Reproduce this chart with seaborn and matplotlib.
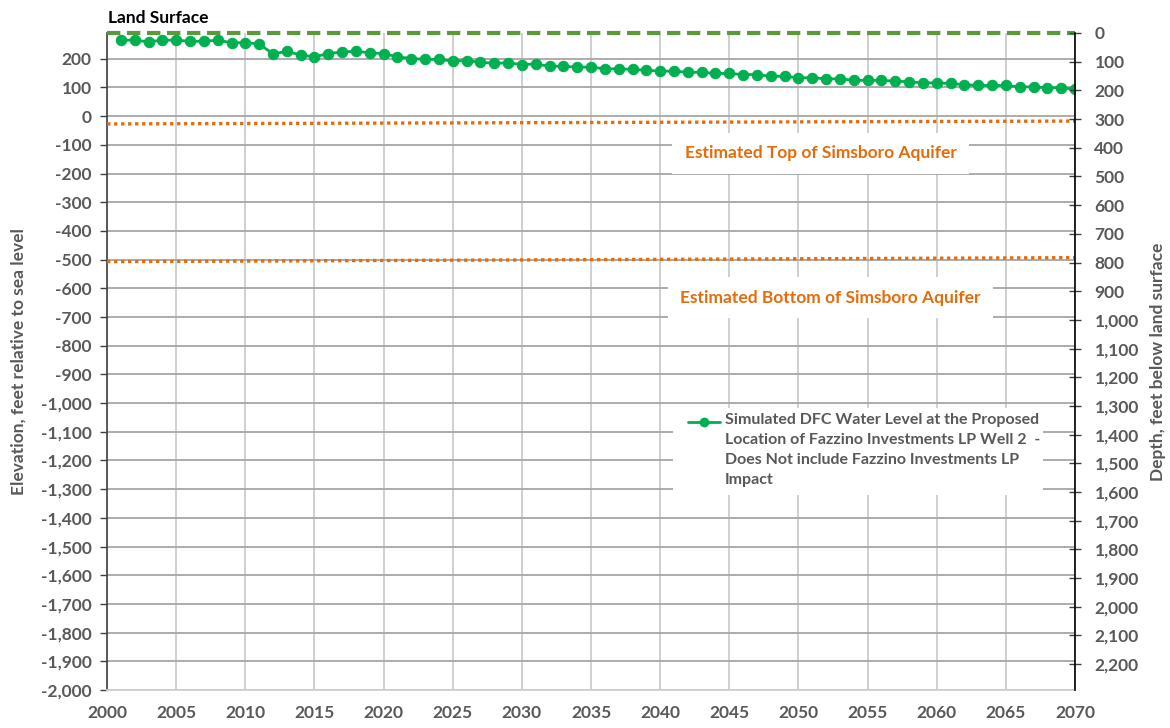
import matplotlib
matplotlib.use("Agg")
import matplotlib.pyplot as plt
import seaborn as sns
import pandas as pd
from matplotlib.lines import Line2D
from matplotlib.patches import Rectangle

# ---------------------------------------------
# Data
# ---------------------------------------------
years = list(range(2001, 2071))
water_level = [265, 265, 259, 265, 265, 261, 261, 265, 256, 256,
               252, 217, 226, 213, 207, 218, 224, 226, 221, 218,
               207, 201, 198, 198, 192, 194, 188, 184, 186, 180,
               182, 174, 174, 171, 171, 165, 165, 163, 160, 157,
               157, 153, 153, 149, 149, 145, 145, 139, 139, 134,
               134, 130, 130, 125, 125, 125, 122, 120, 116, 116,
               114, 110, 107, 107, 107, 102, 102, 99, 99, 94]

land_surface = 290
line_years = [2000, 2070]
top_simsboro = [-27, -17]
bottom_simsboro = [-507, -493]

elev_ticks = list(range(-2000, 201, 100))
depth_ticks = list(range(0, 2201, 100))
year_ticks = list(range(2000, 2071, 5))

legend_label = ("Simulated DFC Water Level at the Proposed\n"
                "Location of Fazzino Investments LP Well 2  -\n"
                "Does Not include Fazzino Investments LP\n"
                "Impact")

df = pd.DataFrame({"Year": years, "Level": water_level})

# ---------------------------------------------
# Style
# ---------------------------------------------
sns.set_style("white")
plt.rcParams["font.family"] = ["Lato", "DejaVu Sans"]
plt.rcParams["font.weight"] = "bold"

gray = "#595959"
green = "#00b050"
olive = "#5b9a3b"
orange = "#e46c0a"

fig = plt.figure(figsize=(11.7, 7.28), dpi=100)
ax = fig.add_axes([0.0915, 0.0522, 0.8273, 0.9025])

# water level series
sns.lineplot(data=df, x="Year", y="Level", ax=ax, color=green, lw=2,
             marker="o", markersize=7.5, markeredgecolor=green, zorder=5)

# land surface
ls = sns.lineplot(x=line_years, y=[land_surface, land_surface], ax=ax,
                  color=olive, lw=3, zorder=4).lines[-1]
ls.set_dashes((3.2, 1.6))
ls.set_clip_on(False)

# top and bottom of the aquifer
for vals in (top_simsboro, bottom_simsboro):
    ln = sns.lineplot(x=line_years, y=vals, ax=ax, color=orange,
                      lw=2.4, zorder=4).lines[-1]
    ln.set_dashes((1, 1.1))

ax.set_xlim(2000, 2070)
ax.set_ylim(-2000, land_surface)
ax.set_xticks(year_ticks)
ax.set_yticks(elev_ticks)
ax.set_yticklabels([f"{v:,}" for v in elev_ticks])
ax.set_xlabel("")
ax.set_ylabel("Elevation, feet relative to sea level", fontsize=12.5,
              color=gray, fontweight="bold", labelpad=10)

ax.tick_params(axis="x", length=0, pad=11, labelsize=12.5, labelcolor=gray)
ax.tick_params(axis="y", length=5, width=1, color="#404040", direction="out",
               pad=6, labelsize=12.5, labelcolor=gray)

ax.set_axisbelow(True)
ax.grid(axis="y", color="#a6a6a6", lw=1.3)
ax.grid(axis="x", color="#cccccc", lw=1.3)

for s in ("top", "right"):
    ax.spines[s].set_visible(False)
ax.spines["left"].set_color("#404040")
ax.spines["left"].set_linewidth(1.2)
ax.spines["bottom"].set_color("#d0d0d0")
ax.spines["bottom"].set_linewidth(1.3)

# right axis: depth below land surface
ax2 = ax.twinx()
ax2.set_ylim(land_surface - (-2000), 0)
ax2.set_yticks(depth_ticks)
ax2.set_yticklabels([f"{v:,}" for v in depth_ticks])
ax2.set_ylabel("Depth, feet below land surface", fontsize=12.5, color=gray,
               fontweight="bold", rotation=90, labelpad=8)
ax2.tick_params(axis="y", length=8, width=1, color="#404040", direction="inout",
                pad=10, labelsize=12.5, labelcolor=gray)
for s in ("top", "left", "bottom"):
    ax2.spines[s].set_visible(False)
ax2.spines["right"].set_color("black")
ax2.spines["right"].set_linestyle((0, (1, 1)))
ax2.spines["right"].set_linewidth(1.2)

# labels on the chart
ax.text(0.001, 1.023, "Land Surface", transform=ax.transAxes, ha="left",
        va="center", fontsize=12.5, fontweight="bold", color="black")

box = dict(facecolor="white", edgecolor="none", boxstyle="square,pad=0.7")
ax.text(2051.6, -130, "Estimated Top of Simsboro Aquifer", ha="center",
        va="center", fontsize=12.5, fontweight="bold", color=orange, bbox=box)
ax.text(2052.3, -632, "Estimated Bottom of Simsboro Aquifer", ha="center",
        va="center", fontsize=12.5, fontweight="bold", color=orange, bbox=box)

# legend box
ax.add_patch(Rectangle((0.585, 0.297), 0.382, 0.132, transform=ax.transAxes,
                       facecolor="white", edgecolor="none", zorder=3))
ax.add_line(Line2D([0.600, 0.633], [0.408, 0.408], transform=ax.transAxes,
                   color=green, lw=2, zorder=6))
ax.add_line(Line2D([0.6165], [0.408], transform=ax.transAxes, color=green,
                   marker="o", markersize=6, zorder=6))
ax.text(0.638, 0.422, legend_label, transform=ax.transAxes, ha="left",
        va="top", fontsize=11.5, fontweight="bold", color=gray,
        linespacing=1.55, zorder=6)

fig.savefig("out.png", dpi=100)
